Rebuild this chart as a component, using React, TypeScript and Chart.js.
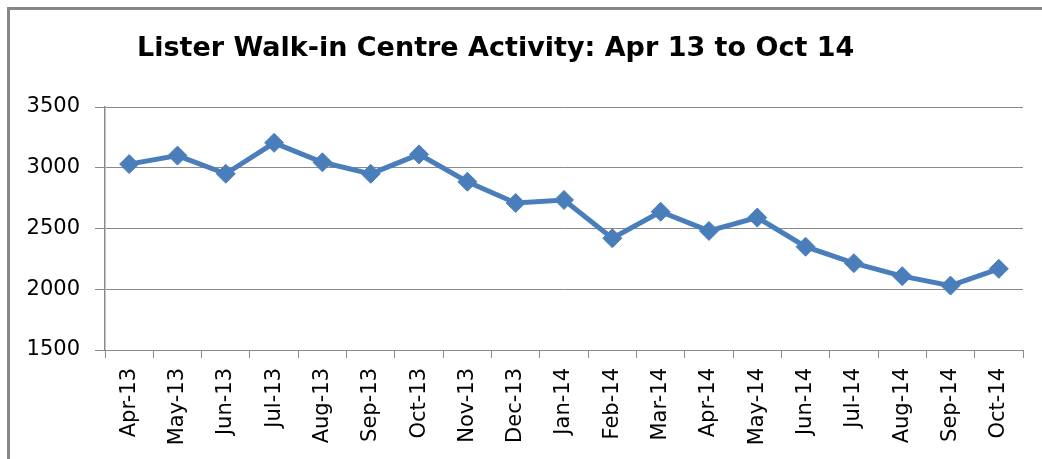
import React, { useEffect, useRef } from "react";
import { Chart, registerables } from "chart.js";

Chart.register(...registerables);

const titleText = "Lister Walk-in Centre Activity: Apr 13 to Oct 14";

const months = [
  "Apr-13", "May-13", "Jun-13", "Jul-13", "Aug-13", "Sep-13", "Oct-13",
  "Nov-13", "Dec-13", "Jan-14", "Feb-14", "Mar-14", "Apr-14", "May-14",
  "Jun-14", "Jul-14", "Aug-14", "Sep-14", "Oct-14",
];

const activity = [
  3030, 3100, 2950, 3205, 3045, 2950, 3110, 2885, 2710, 2735, 2420, 2638,
  2480, 2590, 2350, 2215, 2108, 2030, 2168,
];

const yMin = 1500;
const yMax = 3500;
const yStep = 500;

const titlePlugin = {
  id: "leftTitle",
  afterDraw(chart: any) {
    const ctx = chart.ctx;
    ctx.save();
    ctx.font = "bold 27px 'DejaVu Sans'";
    ctx.fillStyle = "#000000";
    ctx.textAlign = "left";
    ctx.textBaseline = "alphabetic";
    ctx.fillText(titleText, 137, 56);
    ctx.restore();
  },
};

export default function App() {
  const ref = useRef<HTMLCanvasElement | null>(null);

  useEffect(() => {
    if (!ref.current) return;
    const chart = new Chart(ref.current, {
      type: "line",
      data: {
        labels: months,
        datasets: [
          {
            data: activity,
            borderColor: "#4a7ebb",
            backgroundColor: "#4a7ebb",
            borderWidth: 5,
            pointStyle: "rectRot",
            pointRadius: 9.5,
            pointBackgroundColor: "#4a7ebb",
            pointBorderColor: "#4a7ebb",
            pointBorderWidth: 1,
            tension: 0,
          },
        ],
      },
      options: {
        responsive: false,
        animation: false,
        layout: { padding: { top: 107, right: 19, left: 0, bottom: 0 } },
        plugins: {
          legend: { display: false },
          title: { display: false },
          tooltip: { enabled: false },
        },
        scales: {
          x: {
            offset: true,
            grid: {
              offset: true,
              drawOnChartArea: false,
              drawTicks: true,
              tickLength: 8,
              color: "#8a8a8a",
              lineWidth: 1,
            },
            border: { display: true, color: "#8a8a8a", width: 1 },
            ticks: {
              maxRotation: 90,
              minRotation: 90,
              autoSkip: false,
              padding: 10,
              color: "#000000",
              font: { family: "'DejaVu Sans'", size: 21 },
            },
            afterFit(scale: any) {
              scale.height = 109;
            },
          },
          y: {
            min: yMin,
            max: yMax,
            ticks: {
              stepSize: yStep,
              padding: 15,
              color: "#000000",
              font: { family: "'DejaVu Sans'", size: 21 },
              callback: (v: any) => String(v),
            },
            grid: {
              color: "#8a8a8a",
              lineWidth: 1,
              tickLength: 10,
            },
            border: { display: true, color: "#8a8a8a", width: 1.5 },
            afterFit(scale: any) {
              scale.width = 105;
            },
          },
        },
      },
      plugins: [titlePlugin],
    });
    return () => chart.destroy();
  }, []);

  return (
    <div style={{ position: "fixed", left: 0, top: 0, width: 1042, height: 459, background: "#ffffff", overflow: "hidden" }}>
      <canvas ref={ref} width={1042} height={459} style={{ position: "absolute", left: 0, top: 0 }} />
      <div
        style={{
          position: "absolute",
          left: 7,
          top: 7,
          width: 1042,
          height: 459,
          borderLeft: "3px solid #878787",
          borderTop: "3px solid #878787",
          pointerEvents: "none",
        }}
      />
    </div>
  );
}
